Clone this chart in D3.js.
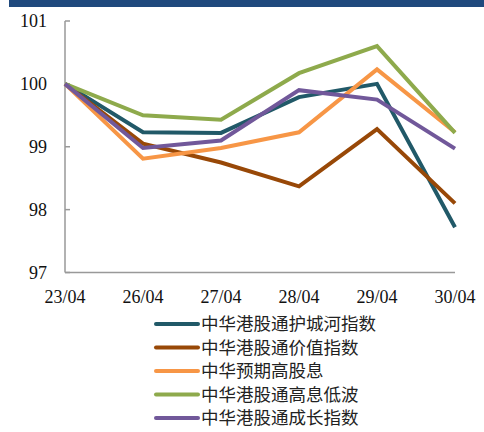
<!DOCTYPE html>
<html>
<head>
<meta charset="utf-8" />
<title>中华港股通指数</title>
<style>
body { margin: 0; background: #fff; }
</style>
</head>
<body>
<div id="chart"></div>
<script src="https://d3js.org/d3.v7.min.js"></script>
<script>
(function(d3) {
'use strict';
var dates = ['23/04', '26/04', '27/04', '28/04', '29/04', '30/04'];
var yTicks = [97, 98, 99, 100, 101];
var names = ['中华港股通护城河指数', '中华港股通价值指数', '中华预期高股息', '中华港股通高息低波', '中华港股通成长指数'];
var colors = ['#215968', '#984807', '#F79646', '#8EAA4C', '#71589A'];
var moat = [100, 99.23, 99.22, 99.79, 100.0, 97.72];
var value = [100, 99.05, 98.75, 98.37, 99.28, 98.10];
var highDiv = [100, 98.81, 98.98, 99.23, 100.23, 99.23];
var lowVol = [100, 99.50, 99.43, 100.17, 100.60, 99.22];
var growth = [100, 98.98, 99.10, 99.90, 99.75, 98.97];
var series = [moat, value, highDiv, lowVol, growth];

var width = 484;
var height = 432;
var svg = d3.select('#chart')
          .append('svg')
          .attr('width', width)
          .attr('height', height);

// top banner
svg.append('rect')
   .attr('x', 9).attr('y', 0)
   .attr('width', width - 9).attr('height', 7)
   .attr('fill', '#1F497D');

var x = d3.scalePoint().domain(dates).range([65, 455]);
var y = d3.scaleLinear().domain([97, 101]).range([272.5, 21]);

// y axis
svg.append('line')
   .attr('x1', 65).attr('x2', 65)
   .attr('y1', y(101)).attr('y2', y(97))
   .attr('stroke', '#999').attr('stroke-width', 1.5);
svg.selectAll('.ytick')
   .data(yTicks)
   .enter()
   .append('line')
   .attr('x1', 65).attr('x2', 70)
   .attr('y1', function(d) { return y(d); })
   .attr('y2', function(d) { return y(d); })
   .attr('stroke', '#999').attr('stroke-width', 1.5);
svg.selectAll('.ylab')
   .data(yTicks)
   .enter()
   .append('text')
   .attr('x', 47)
   .attr('y', function(d) { return y(d) + 6; })
   .attr('text-anchor', 'end')
   .attr('font-family', 'Liberation Serif, serif')
   .attr('font-size', 18)
   .attr('fill', '#111')
   .text(function(d) { return d; });

// x axis
svg.append('line')
   .attr('x1', 65).attr('x2', 455)
   .attr('y1', y(97)).attr('y2', y(97))
   .attr('stroke', '#999').attr('stroke-width', 1.5);
svg.selectAll('.xlab')
   .data(dates)
   .enter()
   .append('text')
   .attr('x', function(d) { return x(d); })
   .attr('y', 303)
   .attr('text-anchor', 'middle')
   .attr('font-family', 'Liberation Serif, serif')
   .attr('font-size', 18)
   .attr('fill', '#111')
   .text(function(d) { return d; });

// lines
var line = d3.line()
   .x(function(d, i) { return x(dates[i]); })
   .y(function(d) { return y(d); });
svg.selectAll('.series')
   .data(series)
   .enter()
   .append('path')
   .attr('d', line)
   .attr('fill', 'none')
   .attr('stroke', function(d, i) { return colors[i]; })
   .attr('stroke-width', 4)
   .attr('stroke-linejoin', 'miter');

// legend
var legend = svg.selectAll('.legend')
   .data(names)
   .enter()
   .append('g')
   .attr('transform', function(d, i) { return 'translate(156,' + (324 + i * 23.5) + ')'; });
legend.append('line')
   .attr('x1', 0).attr('x2', 42)
   .attr('y1', 0).attr('y2', 0)
   .attr('stroke', function(d, i) { return colors[i]; })
   .attr('stroke-width', 4)
   .attr('stroke-linecap', 'round');
legend.append('text')
   .attr('x', 45)
   .attr('y', 6)
   .attr('font-family', 'Noto Sans CJK SC, sans-serif')
   .attr('font-size', 17.5)
   .attr('fill', '#222')
   .text(function(d) { return d; });
})(window.d3);
</script>
</body>
</html>
